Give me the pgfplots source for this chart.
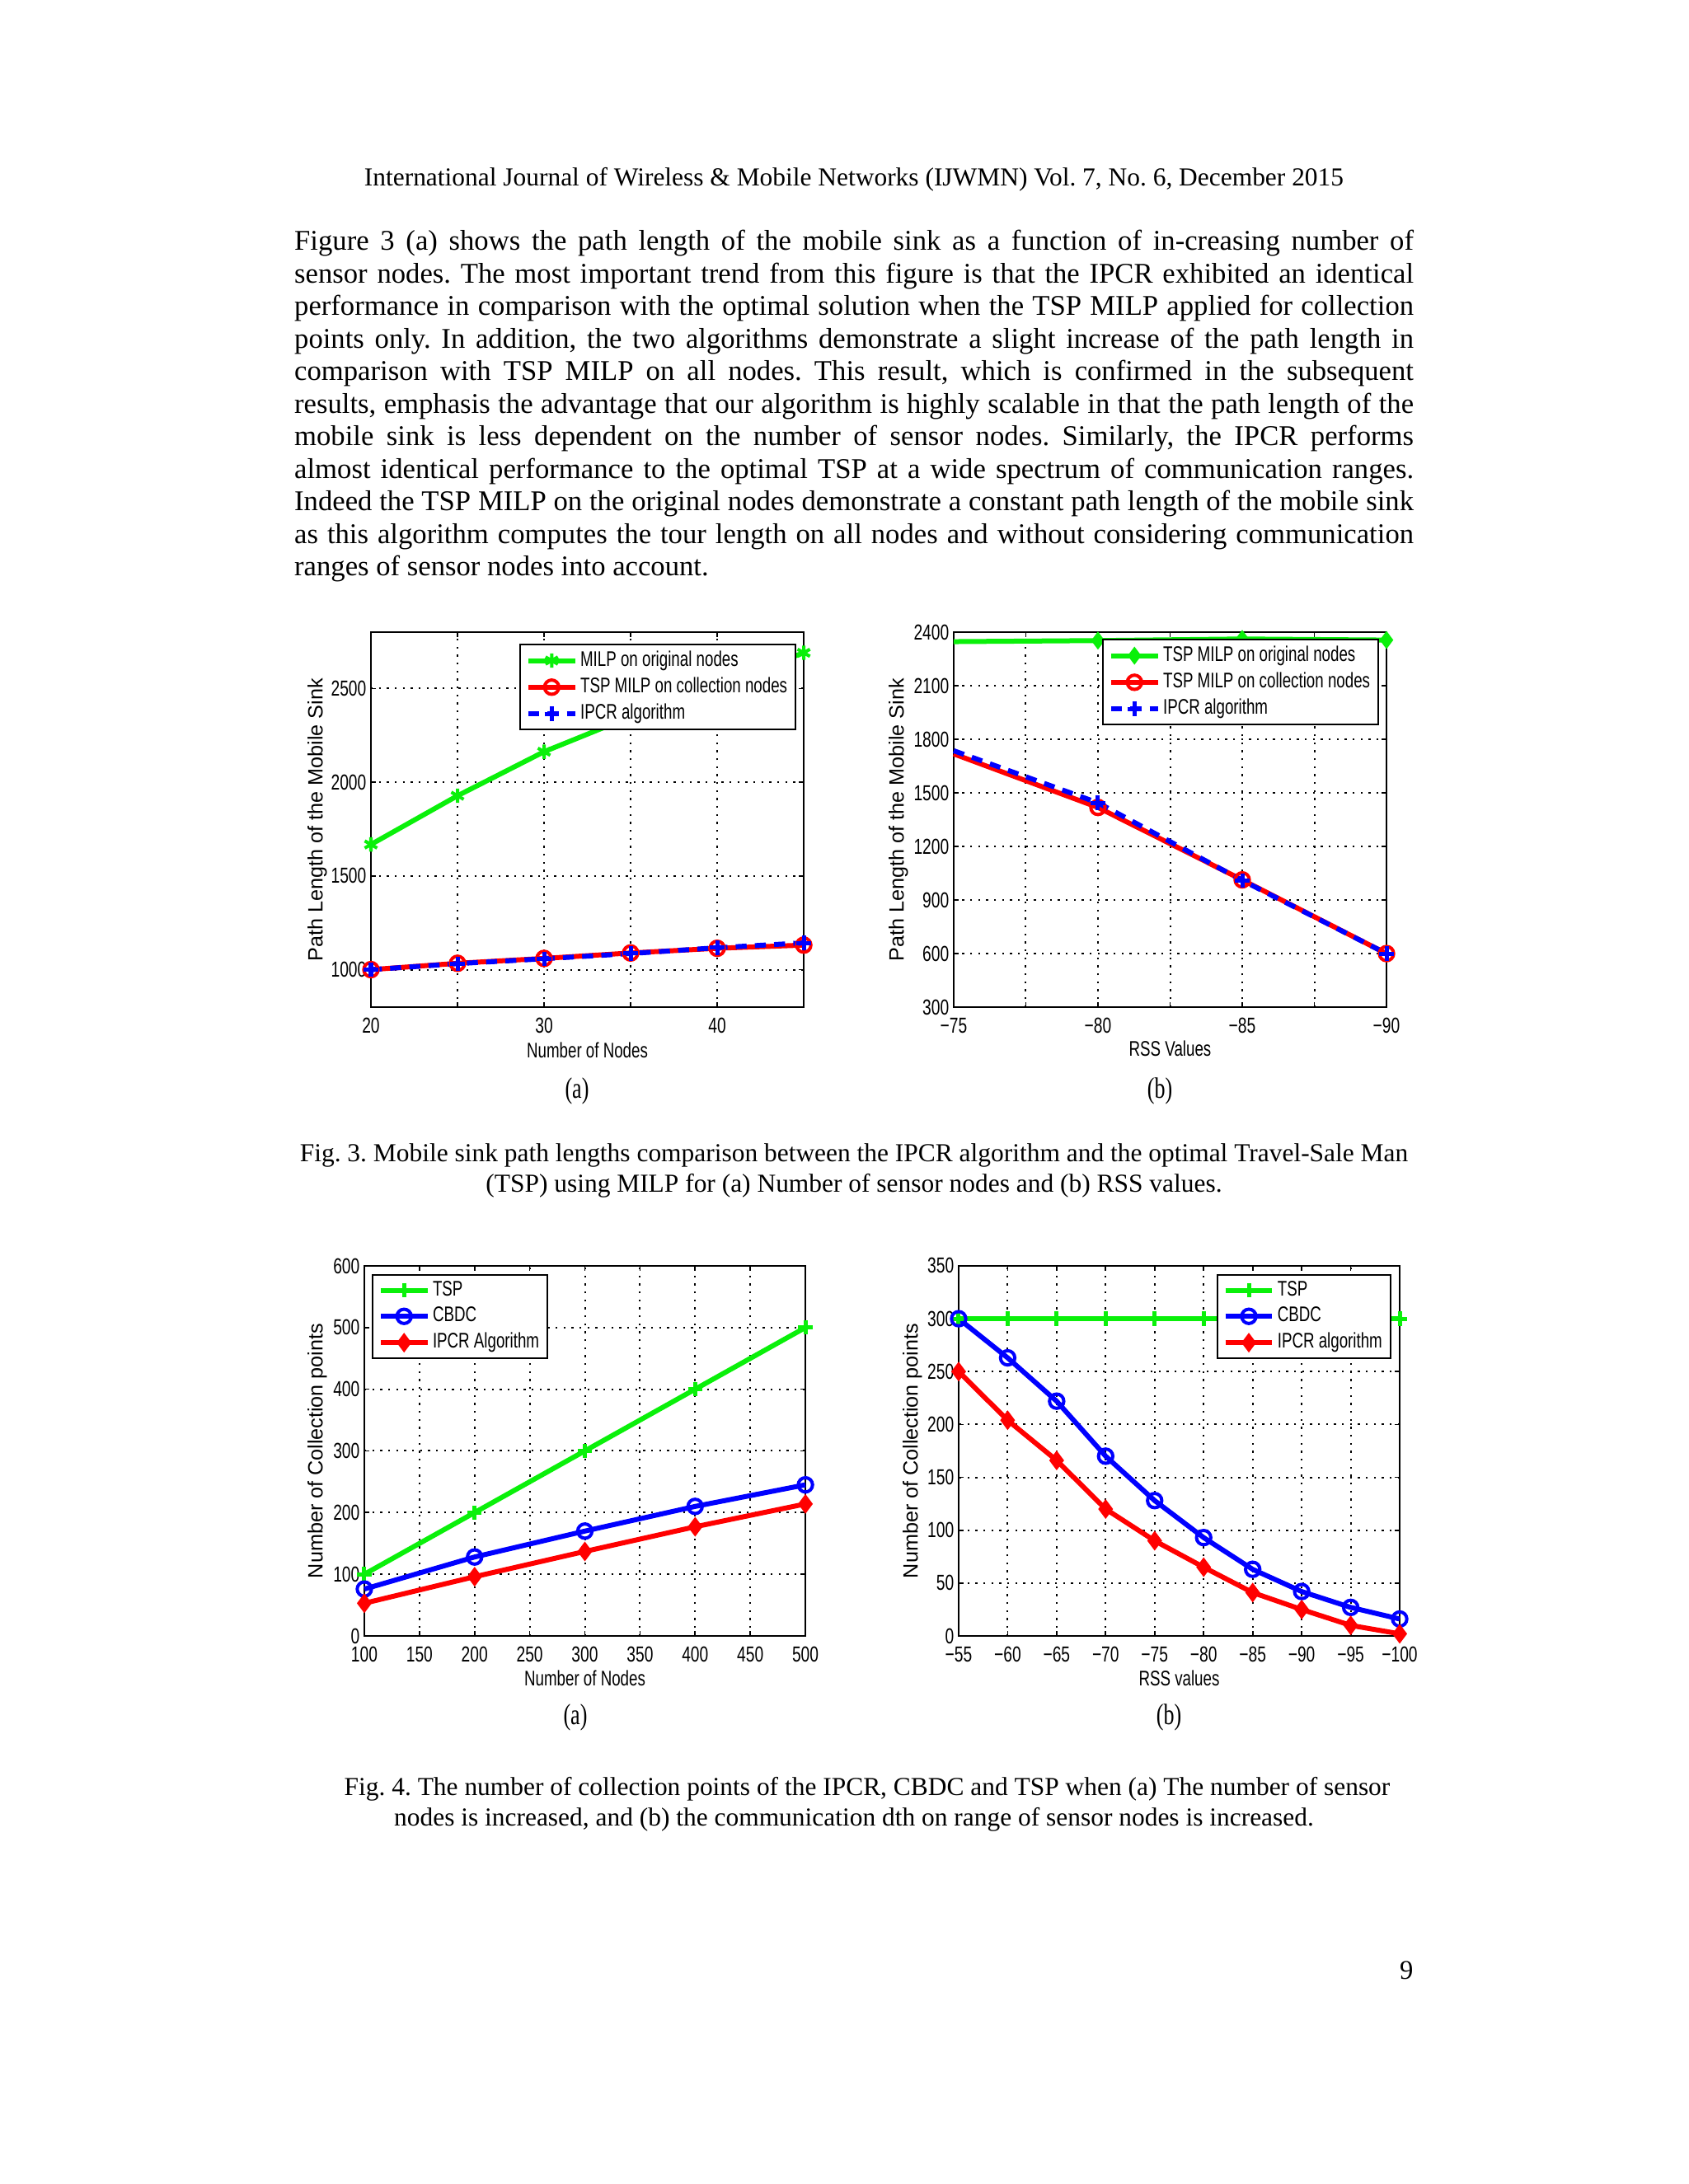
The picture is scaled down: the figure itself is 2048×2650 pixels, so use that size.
\documentclass[border=0pt]{standalone}
\usepackage{fontspec}
\setmainfont{Liberation Serif}
\newfontfamily\figsans{Liberation Sans}[FakeStretch=0.73]
\newfontfamily\ylabfont{Liberation Sans}
\newfontfamily\figserif{Liberation Serif}[FakeStretch=0.73]
\usepackage{pgfplots}
\pgfplotsset{compat=1.18}
\definecolor{mgreen}{RGB}{10,240,10}
\pgfplotsset{
  mystyle/.style={
    scale only axis,
    anchor=south west,
    clip=false,
    axis line style={black, line width=0.6pt},
    tick align=inside,
    major tick length=1.8pt,
    every tick/.style={black, line width=0.5pt},
    grid=major,
    major grid style={black, line width=0.6pt, dash pattern=on 0.7pt off 2.2pt},
    tick label style={font=\figsans\fontsize{7.9}{9}\selectfont, inner sep=1.5pt},
    xticklabel style={yshift=-2.2pt},
    xlabel style={font=\figsans\fontsize{7.7}{9}\selectfont},
    ylabel style={font=\ylabfont\fontsize{7.55}{9}\selectfont},
    legend style={font=\figsans\fontsize{7.7}{8.5}\selectfont, draw=black, line width=0.6pt, fill=white,
      inner xsep=2pt, inner ysep=1.2pt, row sep=0.6pt, nodes={inner sep=1pt, text depth=0.15em}},
    legend cell align=left,
  },
  gline/.style={color=mgreen, line width=1.8pt, mark size=2.6pt, mark options={line width=1.2pt}},
  rline/.style={color=red, line width=1.8pt, mark size=2.6pt, mark options={line width=1.2pt}},
  bline/.style={color=blue, line width=1.8pt, mark size=2.6pt, mark options={line width=1.2pt}},
}
\begin{document}
\frenchspacing
\begin{tikzpicture}[x=0.29995pt,y=0.29995pt]
\fill[white] (0,0) rectangle (2048,2650);
\path[use as bounding box] (0,0) rectangle (2048,2650);

% header
\node[anchor=base, inner sep=0, font=\fontsize{9.43}{11}\selectfont] at (1036,2424)
  {International Journal of Wireless \& Mobile Networks (IJWMN) Vol.~7, No.~6, December 2015};

% paragraph
\begin{scope}[every node/.style={anchor=base west, inner sep=0, font=\fontsize{10.4}{11.86}\selectfont}]
\node at (356.5,2346) {\makebox[407.3pt][s]{Figure 3 (a) shows the path length of the mobile sink as a function of in-creasing number of}};
\node at (356.5,2306.5) {\makebox[407.3pt][s]{sensor nodes. The most important trend from this figure is that the IPCR exhibited an identical}};
\node at (356.5,2267) {\makebox[407.3pt][s]{performance in comparison with the optimal solution when the TSP MILP applied for collection}};
\node at (356.5,2227.5) {\makebox[407.3pt][s]{points only. In addition, the two algorithms demonstrate a slight increase of the path length in}};
\node at (356.5,2188) {\makebox[407.3pt][s]{comparison with TSP MILP on all nodes. This result, which is confirmed in the subsequent}};
\node at (356.5,2148.5) {\makebox[407.3pt][s]{results, emphasis the advantage that our algorithm is highly scalable in that the path length of the}};
\node at (356.5,2109) {\makebox[407.3pt][s]{mobile sink is less dependent on the number of sensor nodes. Similarly, the IPCR performs}};
\node at (356.5,2069.5) {\makebox[407.3pt][s]{almost identical performance to the optimal TSP at a wide spectrum of communication ranges.}};
\node at (356.5,2030) {\makebox[407.3pt][s]{Indeed the TSP MILP on the original nodes demonstrate a constant path length of the mobile sink}};
\node at (356.5,1990.5) {\makebox[407.3pt][s]{as this algorithm computes the tour length on all nodes and without considering communication}};
\node at (356.5,1951) {ranges of sensor nodes into account.};
\end{scope}

% ---------- Fig 3 (a)
\begin{axis}[mystyle,
  at={(134.98pt,428.33pt)},
  width=157.5pt, height=136.4pt,
  xmin=20, xmax=45, ymin=800, ymax=2800,
  xtick={20,25,30,35,40,45}, xticklabels={20,,30,,40,},
  ytick={1000,1500,2000,2500}, yticklabels={1000,1500,2000,2500},
  xlabel={Number of Nodes}, ylabel={Path Length of the Mobile Sink},
  xlabel style={at={(axis description cs:0.5,-0.114)}, anchor=center},
  ylabel style={at={(axis description cs:-0.124,0.5)}, anchor=center},
  legend style={at={(0.983,0.969)}, anchor=north east},
]
\addplot[gline, mark=asterisk] coordinates {(20,1668) (25,1928) (30,2163) (35,2350) (40,2520) (45,2691)};
\addlegendentry{MILP on original nodes}
\addplot[rline, mark=o] coordinates {(20,1000) (25,1034) (30,1060) (35,1089) (40,1114) (45,1131)};
\addlegendentry{TSP MILP on collection nodes}
\addplot[bline, dash pattern=on 4pt off 3pt, mark=+, mark options={solid, line width=1.5pt}] coordinates {(20,1000) (25,1032) (30,1058) (35,1086) (40,1117) (45,1143)};
\addlegendentry{IPCR algorithm}
\end{axis}

% ---------- Fig 3 (b)
\begin{axis}[mystyle,
  at={(347.04pt,428.33pt)},
  width=157.5pt, height=136.4pt,
  x dir=reverse,
  xmin=-90, xmax=-75, ymin=300, ymax=2400,
  xtick={-75,-77.5,-80,-82.5,-85,-87.5,-90}, xticklabels={−75,,−80,,−85,,−90},
  ytick={300,600,900,1200,1500,1800,2100,2400}, yticklabels={300,600,900,1200,1500,1800,2100,2400},
  xlabel={RSS Values}, ylabel={Path Length of the Mobile Sink},
  xlabel style={at={(axis description cs:0.5,-0.110)}, anchor=center},
  ylabel style={at={(axis description cs:-0.128,0.5)}, anchor=center},
  legend style={at={(0.983,0.982)}, anchor=north east},
]
\addplot[gline, mark=diamond*, mark size=2.3pt, mark indices={2,3,4}, legend image post style={mark indices={2}}] coordinates {(-75,2348) (-80,2354) (-85,2363) (-90,2357)};
\addlegendentry{TSP MILP on original nodes}
\addplot[rline, mark=o, mark indices={2,3,4}, legend image post style={mark indices={2}}] coordinates {(-75,1719) (-80,1419) (-85,1013) (-90,600)};
\addlegendentry{TSP MILP on collection nodes}
\addplot[bline, dash pattern=on 4pt off 3pt, mark=+, mark indices={2,3,4}, legend image post style={mark indices={2}}, mark options={solid, line width=1.5pt}] coordinates {(-75,1737) (-80,1445) (-85,1010) (-90,600)};
\addlegendentry{IPCR algorithm}
\end{axis}

% ---------- Fig 4 (a)
\begin{axis}[mystyle,
  at={(132.58pt,199.47pt)},
  width=160.5pt, height=134.7pt,
  xmin=100, xmax=500, ymin=0, ymax=600,
  xtick={100,150,...,500}, xticklabels={100,150,200,250,300,350,400,450,500},
  ytick={0,100,...,600}, yticklabels={0,100,200,300,400,500,600},
  xlabel={Number of Nodes}, ylabel={Number of Collection points},
  xlabel style={at={(axis description cs:0.5,-0.114)}, anchor=center},
  ylabel style={at={(axis description cs:-0.107,0.5)}, anchor=center},
  legend style={at={(0.017,0.978)}, anchor=north west},
]
\addplot[gline, mark=+, mark options={line width=1.5pt}] coordinates {(100,100) (200,200) (300,300) (400,400) (500,500)};
\addlegendentry{TSP}
\addplot[bline, mark=o] coordinates {(100,76) (200,128) (300,170) (400,210) (500,245)};
\addlegendentry{CBDC}
\addplot[rline, mark=diamond*, mark size=2.6pt] coordinates {(100,53) (200,96) (300,137) (400,177) (500,214)};
\addlegendentry{IPCR Algorithm}
\end{axis}

% ---------- Fig 4 (b)
\begin{axis}[mystyle,
  at={(348.84pt,199.47pt)},
  width=160.5pt, height=134.7pt,
  x dir=reverse,
  xmin=-100, xmax=-55, ymin=0, ymax=350,
  xtick={-55,-60,...,-100}, xticklabels={−55,−60,−65,−70,−75,−80,−85,−90,−95,−100},
  ytick={0,50,...,350}, yticklabels={0,50,100,150,200,250,300,350},
  xlabel={RSS values}, ylabel={Number of Collection points},
  xlabel style={at={(axis description cs:0.5,-0.114)}, anchor=center},
  ylabel style={at={(axis description cs:-0.105,0.5)}, anchor=center},
  legend style={at={(0.981,0.978)}, anchor=north east},
]
\addplot[gline, mark=+, mark options={line width=1.5pt}] coordinates {(-55,300) (-60,300) (-65,300) (-70,300) (-75,300) (-80,300) (-85,300) (-90,300) (-95,300) (-100,300)};
\addlegendentry{TSP}
\addplot[bline, mark=o] coordinates {(-55,300) (-60,263) (-65,222) (-70,170) (-75,128) (-80,93) (-85,63) (-90,42) (-95,27) (-100,16)};
\addlegendentry{CBDC}
\addplot[rline, mark=diamond*, mark size=2.6pt] coordinates {(-55,250) (-60,204) (-65,166) (-70,120) (-75,90) (-80,65) (-85,41) (-90,25) (-95,10) (-100,2)};
\addlegendentry{IPCR algorithm}
\end{axis}

% sub-figure labels
\begin{scope}[every node/.style={font=\figserif\fontsize{10.7}{12}\selectfont, inner sep=0}]
\node at (700,1326) {(a)};
\node at (1407,1326) {(b)};
\node at (698,566) {(a)};
\node at (1418,566) {(b)};
\end{scope}

% captions
\begin{scope}[every node/.style={anchor=base, inner sep=0, font=\fontsize{9.43}{11}\selectfont}]
\node at (1036,1240) {Fig. 3. Mobile sink path lengths comparison between the IPCR algorithm and the optimal Travel-Sale Man};
\node at (1036,1203) {(TSP) using MILP for (a) Number of sensor nodes and (b) RSS values.};
\node at (1052,471) {Fig. 4. The number of collection points of the IPCR, CBDC and TSP when (a) The number of sensor};
\node at (1036,434) {nodes is increased, and (b) the communication dth on range of sensor nodes is increased.};
\end{scope}

\node[anchor=base east, inner sep=0, font=\fontsize{9.8}{11}\selectfont] at (1715,248) {9};
\end{tikzpicture}
\end{document}
